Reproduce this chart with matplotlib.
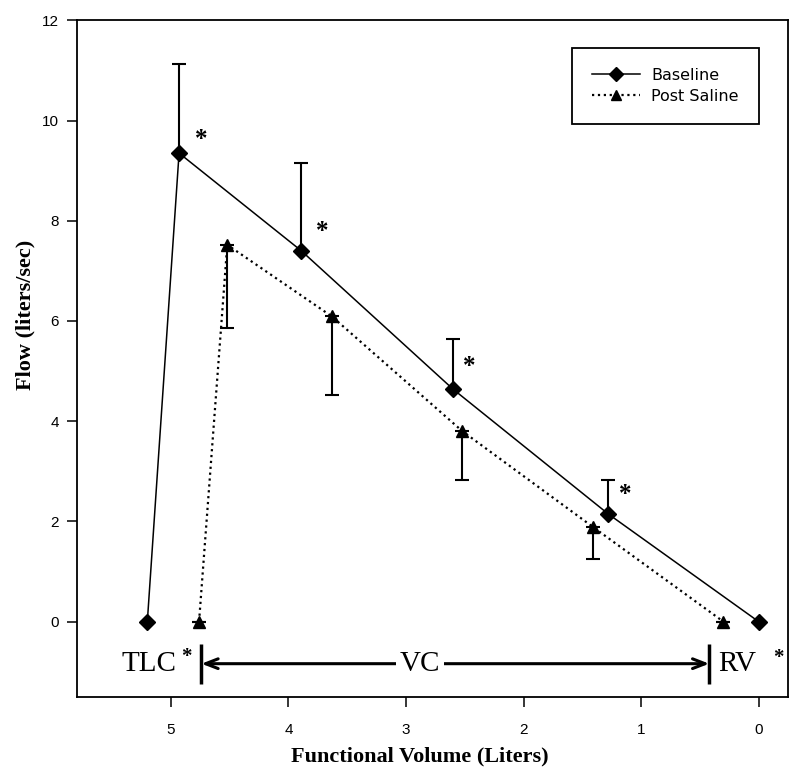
import numpy as np
import matplotlib
matplotlib.use("Agg")
import matplotlib.pyplot as plt

# data
base_x = [5.2, 4.93, 3.89, 2.60, 1.28, 0.0]
base_y = [0.0, 9.35, 7.40, 4.64, 2.15, 0.0]
base_err = [0, 1.77, 1.75, 1.00, 0.68, 0]
saline_x = [4.76, 4.52, 3.63, 2.52, 1.41, 0.30]
saline_y = [0.0, 7.52, 6.09, 3.80, 1.89, 0.0]
saline_err = [0, 1.67, 1.57, 0.97, 0.64, 0]
star_idx = [1, 2, 3, 4]
star_off = [(16, 10), (15, 14), (12, 16), (12, 14)]

xticks = [5, 4, 3, 2, 1, 0]
yticks = [0, 2, 4, 6, 8, 10, 12]

vc_left, vc_right = 4.74, 0.42
lab_y = -0.84

serif = "Liberation Serif"
sans = "Liberation Sans"

fig = plt.figure(figsize=(8, 7.82), dpi=100)
ax = fig.add_axes([0.096, 0.109, 0.889, 0.865])

ax.plot(base_x, base_y, "-", color="black", lw=1.1, marker="D", ms=8, label="Baseline", zorder=3)
ax.plot(saline_x, saline_y, ":", color="black", lw=1.6, marker="^", ms=9, label="Post Saline", zorder=3)

# one-sided error bars
ax.errorbar(base_x, base_y, yerr=[np.zeros(len(base_err)), base_err], fmt="none",
            ecolor="black", elinewidth=1.5, capsize=5, capthick=1.5, zorder=2)
ax.errorbar(saline_x, saline_y, yerr=[saline_err, np.zeros(len(saline_err))], fmt="none",
            ecolor="black", elinewidth=1.5, capsize=5, capthick=1.5, zorder=2)

for i, off in zip(star_idx, star_off):
    ax.annotate("*", xy=(base_x[i], base_y[i]), xytext=off, textcoords="offset points",
                ha="center", va="center", fontsize=18, family=serif, fontweight="bold")

# TLC / VC / RV labels
ax.text(4.95, lab_y, "TLC", ha="right", va="center", fontsize=21, family=serif)
ax.text(4.87, lab_y + 0.14, "*", ha="center", va="center", fontsize=15, family=serif, fontweight="bold")
ax.text(0.34, lab_y, "RV", ha="left", va="center", fontsize=21, family=serif)
ax.text(-0.17, lab_y + 0.12, "*", ha="center", va="center", fontsize=15, family=serif, fontweight="bold")
ax.annotate("", xy=(vc_right, lab_y), xytext=(vc_left, lab_y),
            arrowprops=dict(arrowstyle="<->,head_length=0.9,head_width=0.35", lw=2.2,
                            color="black", shrinkA=0, shrinkB=0))
ax.vlines([vc_left, vc_right], lab_y - 0.4, lab_y + 0.4, color="black", lw=2.5)
ax.text(2.88, lab_y, "VC", ha="center", va="center", fontsize=21, family=serif, zorder=5,
        bbox=dict(facecolor="white", edgecolor="none", pad=3))

ax.set_xlim(5.8, -0.25)
ax.set_ylim(-1.5, 12)
ax.set_xticks(xticks)
ax.set_yticks(yticks)
ax.tick_params(direction="out", length=7, width=1.1, labelsize=11)
ax.tick_params(axis="x", pad=12)
ax.tick_params(axis="y", pad=6)
for lab in ax.get_xticklabels() + ax.get_yticklabels():
    lab.set_family(sans)
for s in ax.spines.values():
    s.set_linewidth(1.3)

ax.set_xlabel("Functional Volume (Liters)", fontsize=16, family=serif, fontweight="bold")
ax.set_ylabel("Flow (liters/sec)", fontsize=16, family=serif, fontweight="bold")
ax.xaxis.set_label_coords(0.482, -0.074)
ax.yaxis.set_label_coords(-0.058, 0.564)

leg = ax.legend(loc="upper right", bbox_to_anchor=(0.959, 0.959), borderaxespad=0,
                fancybox=False, edgecolor="black", framealpha=1,
                prop={"family": "DejaVu Sans", "size": 11.5},
                handlelength=3, handletextpad=0.7, borderpad=1.25, labelspacing=0.35,
                markerscale=0.85)
leg.get_frame().set_linewidth(1.3)

fig.savefig("out.png", dpi=100)
